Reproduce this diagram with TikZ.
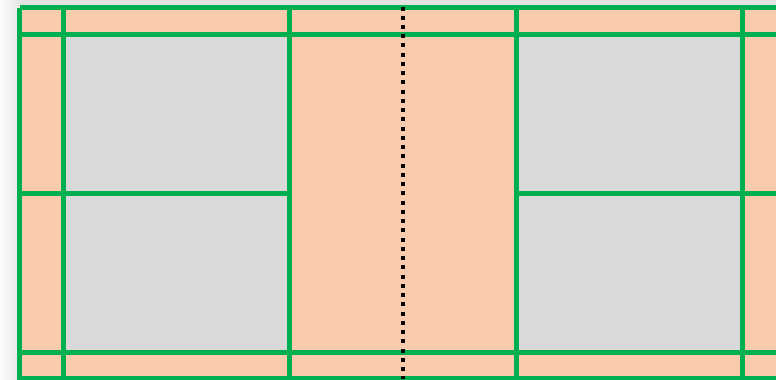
\documentclass[tikz,border=0pt]{standalone}
\usepackage{tikz}

\definecolor{courtorange}{HTML}{F8CBAD}
\definecolor{courtgray}{HTML}{D9D9D9}
\definecolor{courtgreen}{HTML}{00B050}
\definecolor{backgray}{HTML}{E3E3E3}

\begin{document}
\begin{tikzpicture}[
    x=0.02cm, y=-0.02cm,
    courtline/.style={draw=courtgreen, line width=0.1cm},
    netline/.style={draw=black, line width=0.08cm,
                    dash pattern=on 0.08cm off 0.105cm},
    area/.style={fill=courtorange},
    box/.style={fill=courtgray},
]

\useasboundingbox (0,0) rectangle (776,379);
\clip (0,0) rectangle (776,379);

% --- Background ---
\fill[backgray] (0,0) rectangle (776,379);
\shade[left color=white!92!backgray, right color=backgray]
    (0,0) rectangle (22,379);

% --- Court surface ---
\fill[area] (19.5,7.5) rectangle (790,390);
\fill[box] (63.5,34.5) rectangle (289.5,352.5);
\fill[box] (516.5,34.5) rectangle (742.5,352.5);

% --- Court lines ---
\foreach \y in {7.5, 34.5, 352.5, 378.5}
    \draw[courtline] (19.5,\y) -- (790,\y);
\foreach \x in {19.5, 63.5, 289.5, 516.5, 742.5}
    \draw[courtline] (\x,7.5) -- (\x,390);
\draw[courtline] (19.5,193.5) -- (289.5,193.5);
\draw[courtline] (516.5,193.5) -- (790,193.5);

% --- Net ---
\draw[netline] (402.5,6.5) -- (402.5,379);

\end{tikzpicture}
\end{document}
